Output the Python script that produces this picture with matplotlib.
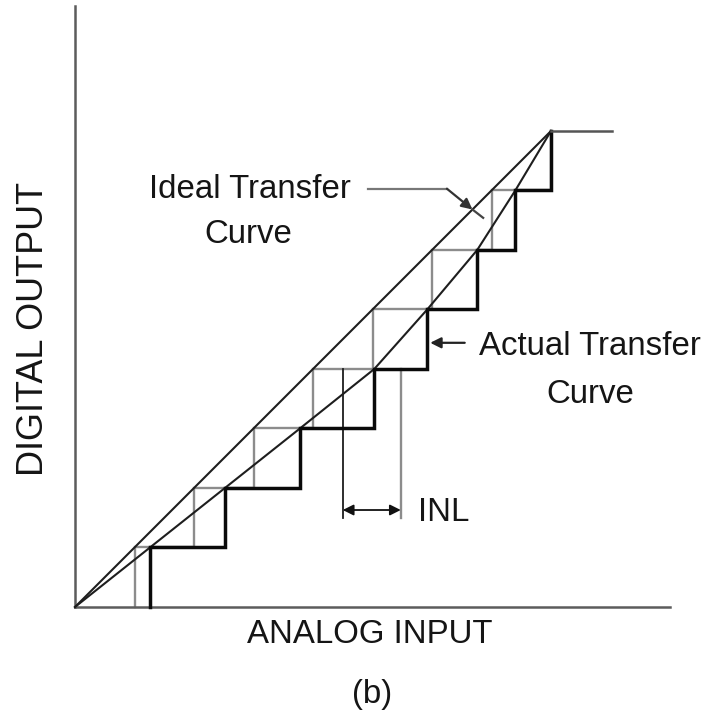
import numpy as np
import matplotlib
matplotlib.use("Agg")
import matplotlib.pyplot as plt

plt.rcParams['font.family'] = ['Liberation Sans', 'DejaVu Sans']

# Output codes and their transition points along the analog input (in LSB)
codes = np.array([1, 2, 3, 4, 5, 6, 7, 8])
ideal_transitions = np.array([1.0, 2.0, 3.0, 4.0, 5.0, 6.0, 7.0, 8.0])
actual_transitions = np.array([1.26, 2.52, 3.78, 5.03, 5.92, 6.76, 7.40, 8.0])
full_scale_end = 9.03
inl_code = 4
inl_floor = 1.5

PX = 100.0  # dpi
FS = 33 * 72 / PX  # ~33 px text

fig = plt.figure(figsize=(7.1, 7.1), dpi=PX)
ax = fig.add_axes([75 / 710, 103 / 710, 595 / 710, 601 / 710])
ax.set_xlim(0, 10)
ax.set_ylim(0, 10.1)
for s in ('top', 'right'):
    ax.spines[s].set_visible(False)
for s in ('left', 'bottom'):
    ax.spines[s].set_color('#5c5c5c')
    ax.spines[s].set_linewidth(1.8)
ax.set_xticks([])
ax.set_yticks([])


def staircase(transitions):
    xs = np.repeat(transitions, 2)
    ys = np.concatenate([[0], np.repeat(codes[:-1], 2), [codes[-1]]])
    return xs, ys


gray = '#8c8c8c'
dark = '#1e1e1e'
txt = '#151515'

# ideal staircase (gray)
xi, yi = staircase(ideal_transitions)
ax.plot(xi, yi, color=gray, lw=1.7, zorder=2, clip_on=False, solid_joinstyle='miter')

# straight-line ideal transfer curve
ax.plot([0, ideal_transitions[-1]], [0, codes[-1]], color=dark, lw=1.5, zorder=3, clip_on=False)

# actual transfer curve through the code-transition corners
ax.plot(np.concatenate([[0], actual_transitions]), np.concatenate([[0], codes]),
        color=dark, lw=1.5, zorder=3, clip_on=False)

# actual staircase (black)
xa, ya = staircase(actual_transitions)
ax.plot(xa, ya, color='#0a0a0a', lw=2.5, zorder=4, clip_on=False, solid_joinstyle='miter')

# full-scale code
ax.plot([actual_transitions[-1], full_scale_end], [codes[-1], codes[-1]],
        color='#555555', lw=1.8, zorder=4, clip_on=False)

# INL marker between code centers
i = inl_code - 1
ideal_mid = (ideal_transitions[i] + ideal_transitions[i + 1]) / 2
actual_mid = (actual_transitions[i] + actual_transitions[i + 1]) / 2
ax.plot([ideal_mid, ideal_mid], [inl_code, inl_floor], color=dark, lw=1.3, zorder=3)
ax.plot([actual_mid, actual_mid], [inl_code, inl_floor], color=gray, lw=1.7, zorder=3)
ax.annotate('', xy=(ideal_mid, 1.63), xytext=(actual_mid, 1.63),
            arrowprops=dict(arrowstyle='<|-|>', color='#111111', lw=1.3,
                            mutation_scale=16, shrinkA=0, shrinkB=0))
ax.text(actual_mid + 0.29, 1.445, 'INL', fontsize=FS, ha='left', va='baseline', color=txt)

# ideal-curve label with leader
ax.text(2.94, 6.87, 'Ideal Transfer', fontsize=FS, ha='center', va='baseline', color=txt)
ax.text(2.91, 6.12, 'Curve', fontsize=FS, ha='center', va='baseline', color=txt)
ax.plot([4.92, 6.25], [7.03, 7.03], color='#777777', lw=1.6, zorder=3)
ax.annotate('', xy=(6.68, 6.68), xytext=(6.25, 7.03),
            arrowprops=dict(arrowstyle='-|>', color='#333333', lw=1.6,
                            mutation_scale=16, shrinkA=0, shrinkB=0), zorder=3)
ax.plot([6.68, 6.86], [6.68, 6.54], color='#444444', lw=1.6, zorder=3)

# actual-curve label with arrow
ax.text(8.66, 4.24, 'Actual Transfer', fontsize=FS, ha='center', va='baseline', color=txt,
        clip_on=False)
ax.text(8.66, 3.43, 'Curve', fontsize=FS, ha='center', va='baseline', color=txt,
        clip_on=False)
ax.annotate('', xy=(5.97, 4.44), xytext=(6.55, 4.44),
            arrowprops=dict(arrowstyle='-|>', color='#222222', lw=1.6,
                            mutation_scale=16, shrinkA=0, shrinkB=0))

# axis titles and caption
fig.text(370 / 710, 1 - 643 / 710, 'ANALOG INPUT', fontsize=FS, ha='center', va='baseline',
         color=txt)
fig.text(43 / 710, 1 - 328.5 / 710, 'DIGITAL OUTPUT', fontsize=36 * 72 / PX, ha='center',
         va='baseline', rotation=90, rotation_mode='anchor', color=txt)
fig.text(372 / 710, 1 - 695 / 710, '(b)', fontsize=FS, ha='center', va='center', color=txt)

fig.savefig('out.png', dpi=PX, facecolor='white')
